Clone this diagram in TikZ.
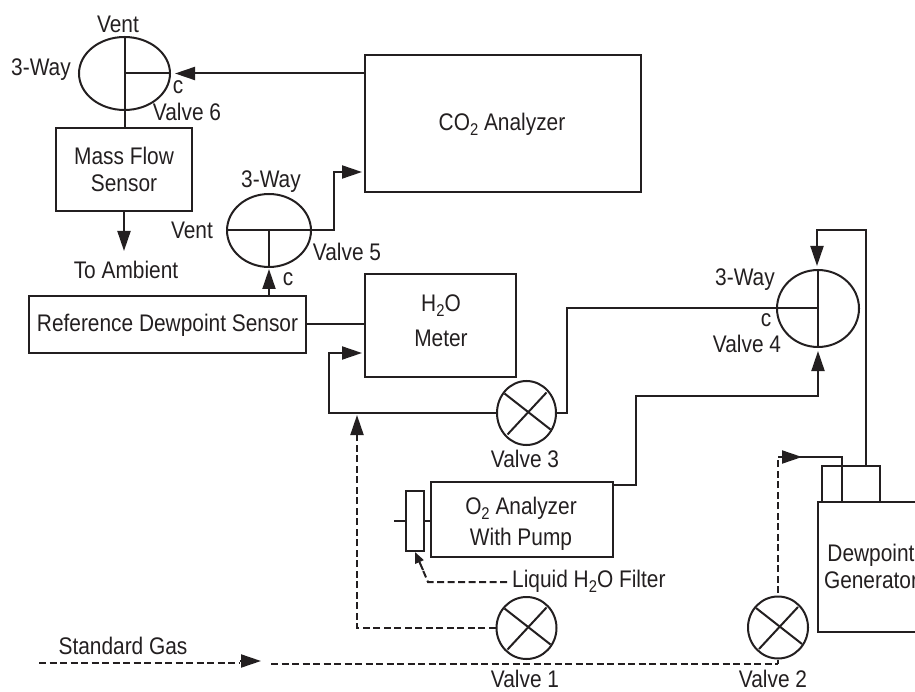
\documentclass[tikz,border=0pt]{standalone}
\usepackage{fontspec}
\setmainfont{Liberation Sans}[FakeStretch=0.87]
\usetikzlibrary{arrows.meta,shapes.geometric,calc}
\newcommand{\subtwo}{\raisebox{-5pt}{\fontsize{17}{17}\selectfont 2}}
\definecolor{ink}{RGB}{35,31,32}
\tikzset{
  lbl/.style={text=ink,inner sep=0pt,font=\fontsize{24}{27}\selectfont,align=center},
  boxn/.style={draw=ink,rectangle,inner sep=0pt,line width=2pt,text=ink,font=\fontsize{24}{27}\selectfont,align=center},
  valve/.style={draw=ink,ellipse,inner sep=0pt,line width=2pt},
  pipe/.style={draw=ink,line width=2pt},
  dashline/.style={draw=ink,line width=2pt,dash pattern=on 7pt off 3.5pt},
  head/.style={-{Triangle[length=20pt,width=13pt]}},
  smallhead/.style={-{Triangle[length=11pt,width=9pt]}},
  xline/.style={draw=ink,line width=2pt}
}
\newcommand{\xmark}[1]{%
  \draw[xline] ($(#1)+(-22,-19.5)$) -- ($(#1)+(24,16.5)$);
  \draw[xline] ($(#1)+(20,-20.5)$) -- ($(#1)+(-19,21.5)$);}
\begin{document}
\begin{tikzpicture}[x=1pt,y=-1pt]
\useasboundingbox (0,0) rectangle (915,692);
\clip (0,0) rectangle (915,692);
% valves
\node[valve,minimum width=91pt,minimum height=73pt] (v6) at (124.5,73.5) {};
\node[valve,minimum width=84pt,minimum height=73pt] (v5) at (269,230.5) {};
\node[valve,minimum width=82pt,minimum height=77pt] (v4) at (818,308.5) {};
\node[valve,minimum width=59pt,minimum height=64pt] (v3) at (526.5,413) {};
\node[valve,minimum width=60pt,minimum height=62pt] (v1) at (526.5,628) {};
\node[valve,minimum width=60pt,minimum height=62pt] (v2) at (778,627.5) {};
% boxes
\node[boxn,minimum width=136pt,minimum height=83pt] (mfs) at (124,169.5) {Mass Flow\\Sensor};
\node[boxn,minimum width=276pt,minimum height=137pt] (co2) at (503,123.5) {};
\node[lbl] (co2t) at (502,124) {CO\subtwo{} Analyzer};
\node[boxn,minimum width=277pt,minimum height=57pt] (ref) at (167.5,324.5) {};
\node[lbl] (reft) at (167.5,325) {Reference Dewpoint Sensor};
\node[boxn,minimum width=151pt,minimum height=103pt] (h2o) at (440.5,325.5) {};
\node[lbl] (h2ot) at (441,320.5) {H\subtwo{}O\\[8pt]Meter};
\node[boxn,minimum width=182pt,minimum height=75pt] (o2) at (522,519.5) {};
\node[lbl] (o2t) at (521,523.5) {O\subtwo{} Analyzer\\[4pt]With Pump};
\node[boxn,minimum width=18pt,minimum height=60pt] (filt) at (415,521) {};
\node[boxn,minimum width=58pt,minimum height=36pt] (cap) at (851,484) {};
\node[boxn,minimum width=122pt,minimum height=130pt] (gen) at (879,567) {};
\node[lbl] (gent) at (871,566) {Dewpoint\\Generator};
% coordinates
\coordinate (a6) at (v6.center);
\coordinate (a5) at (v5.center);
\coordinate (a4) at (v4.center);
\coordinate (filtin) at (415,552);
\coordinate (filtend) at (394,521);
\coordinate (liq) at (507,582);
\coordinate (liqc) at (428,582);
\coordinate (sg0) at (39,663);
\coordinate (sg1) at (240,663);
\coordinate (sga) at (240,661);
\coordinate (sgb) at (261,661);
\coordinate (sg2) at (271,664);
\coordinate (sg3) at (778,664);
\coordinate (v2up) at (778,593);
\coordinate (v2c) at (778,457);
\coordinate (v2h) at (802,457);
\coordinate (v2e) at (842,457);
\coordinate (capin) at (842,502);
% valve inner lines
\draw[pipe] (v6.north) -- (v6.south);
\draw[pipe] (a6) -- (v6.east);
\draw[pipe] (v5.west) -- (v5.east);
\draw[pipe] (a5) -- (v5.south);
\draw[pipe] (v4.north) -- (v4.south);
\draw[pipe] (a4) -- (v4.west);
\xmark{v1}
\xmark{v2}
\xmark{v3}
% connectors
\draw[pipe] (v6.south) -- (v6.south |- mfs.north);
\draw[pipe,head] (co2.west |- v6.east) -- ($(v6.east)+(4,0)$);
\draw[pipe,head] (mfs.south) -- ++(0,39);
\draw[pipe,head] (v5.east) -- ++(22,0) |- (362,172);
\draw[pipe,head] (a5 |- ref.north) -- ($(v5.south)+(0,1)$);
\draw[pipe] (ref.east) -- (h2o.west |- ref.east);
\draw[pipe,head] (v3.west) -- (329,413) |- (362,353);
\draw[pipe] (v3.east) -- (567,413) |- (v4.west);
\draw[pipe,head] (o2.east |- 0,485) -- (636,485) |- (818,396) -- ($(v4.south)+(0,3)$);
\draw[pipe,head] (866,466) -- (866,230) -| ($(v4.north)+(-1,-3)$);
\draw[pipe] (filtend) -- (filt.west |- filtend);
\draw[pipe] (filt.east |- filtend) -- (o2.west |- filtend);
\draw[dashline] (v1.west) -- (357,628) -- (357,436);
\draw[pipe,head] (357,436) -- (357,415);
\draw[dashline] (liq) -- (liqc) -- (422,568);
\draw[pipe,smallhead] (423,570) -- (filtin);
\draw[dashline] (sg0) -- (sg1);
\draw[pipe,head] (sga) -- (sgb);
\draw[dashline] (sg2) -- (sg3);
\draw[pipe] (sg3) -- (v2.south);
\draw[dashline] (v2up) -- (v2c);
\draw[pipe] (v2c) -- (v2e) -- (capin);
\draw[pipe,head] (783,457) -- (v2h);
% labels
\node[lbl] (t1) at (118,24) {Vent};
\node[lbl] (t2) at (41,70) {3-Way};
\node[lbl] (t3) at (178,87) {c};
\node[lbl] (t4) at (187,112) {Valve 6};
\node[lbl] (t5) at (126,270) {To Ambient};
\node[lbl] (t6) at (271,182) {3-Way};
\node[lbl] (t7) at (192,230) {Vent};
\node[lbl] (t8) at (347,252) {Valve 5};
\node[lbl] (t9) at (288,279) {c};
\node[lbl] (t10) at (745,280) {3-Way};
\node[lbl] (t11) at (766,320) {c};
\node[lbl] (t12) at (747,344) {Valve 4};
\node[lbl] (t13) at (525,459) {Valve 3};
\node[lbl,anchor=west] (t14) at (512,581) {Liquid H\subtwo{}O Filter};
\node[lbl] (t15) at (123,646) {Standard Gas};
\node[lbl] (t16) at (525,679) {Valve 1};
\node[lbl] (t17) at (773,679) {Valve 2};
\end{tikzpicture}
\end{document}
